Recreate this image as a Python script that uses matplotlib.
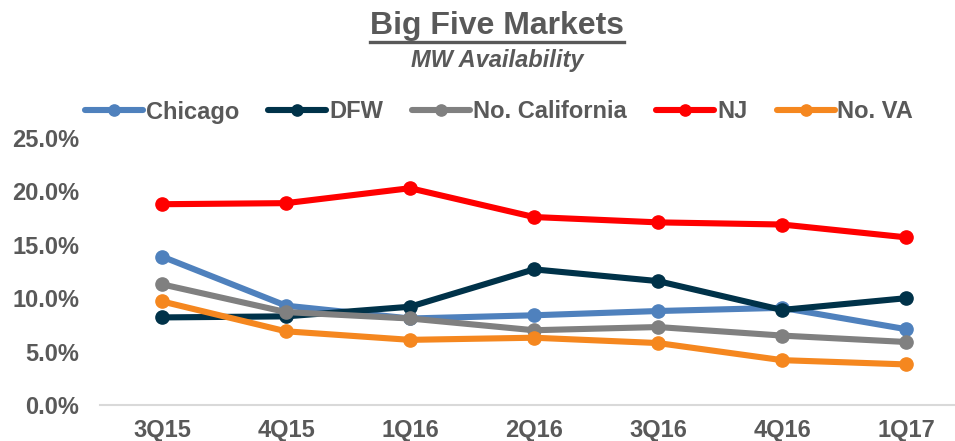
import matplotlib
matplotlib.use("Agg")
import matplotlib.pyplot as plt
from matplotlib.lines import Line2D

plt.rcParams['font.family'] = ['Liberation Sans', 'DejaVu Sans']

quarters = ["3Q15", "4Q15", "1Q16", "2Q16", "3Q16", "4Q16", "1Q17"]
chicago = [13.9, 9.3, 8.1, 8.4, 8.8, 9.1, 7.1]
dfw = [8.2, 8.3, 9.2, 12.7, 11.6, 8.9, 10.0]
no_california = [11.3, 8.7, 8.1, 7.0, 7.3, 6.5, 5.9]
nj = [18.8, 18.9, 20.3, 17.6, 17.1, 16.9, 15.7]
no_va = [9.7, 6.9, 6.1, 6.3, 5.8, 4.2, 3.8]

series_names = ["Chicago", "DFW", "No. California", "NJ", "No. VA"]
series_values = [chicago, dfw, no_california, nj, no_va]
colors = ["#4F81BD", "#003249", "#808080", "#FF0000", "#F5871F"]

TXT = "#595959"

fig = plt.figure(figsize=(9.55, 4.41), dpi=100)
ax = fig.add_axes([100 / 955, 36 / 441, 868 / 955, 267 / 441])

x = list(range(len(quarters)))
for name, vals, c in zip(series_names, series_values, colors):
    ax.plot(x, vals, color=c, lw=4.4, marker="o", ms=9.5, label=name,
            solid_capstyle="round", solid_joinstyle="round")

ax.set_xlim(-0.5, len(quarters) - 0.5)
ax.set_ylim(0, 25)
ax.set_yticks([0, 5, 10, 15, 20, 25])
ax.set_yticklabels([f"{v:.1f}%" for v in [0, 5, 10, 15, 20, 25]])
ax.set_xticks(x)
ax.set_xticklabels(quarters)
for s in ["top", "right", "left"]:
    ax.spines[s].set_visible(False)
ax.spines["bottom"].set_color("#D9D9D9")
ax.spines["bottom"].set_linewidth(1.5)
ax.tick_params(axis="both", length=0, labelsize=17, labelcolor=TXT)
ax.tick_params(axis="y", pad=15)
ax.tick_params(axis="x", pad=10)
for lbl in ax.get_xticklabels() + ax.get_yticklabels():
    lbl.set_fontweight("bold")

# title with underline
title = fig.text(497 / 955, 1 - 26 / 441, "Big Five Markets", ha="center", va="center",
                 fontsize=23, fontweight="bold", color=TXT)
fig.text(497 / 955, 1 - 60 / 441, "MW Availability", ha="center", va="center",
         fontsize=17, fontweight="bold", fontstyle="italic", color=TXT)
fig.canvas.draw()
bb = title.get_window_extent(fig.canvas.get_renderer())
W, H = fig.bbox.width, fig.bbox.height
uy = 1 - 42 / 441
fig.add_artist(Line2D([bb.x0 / W, bb.x1 / W], [uy, uy], color=TXT, lw=2.4,
                      transform=fig.transFigure))

leg = fig.legend(loc="center", bbox_to_anchor=(499 / 955, 1 - 112 / 441), ncol=5,
                 frameon=False, fontsize=17, handlelength=2.45, handletextpad=0.12,
                 columnspacing=1.25, markerscale=0.85)
for t in leg.get_texts():
    t.set_color(TXT)
    t.set_fontweight("bold")

fig.savefig("out.png", dpi=100)
